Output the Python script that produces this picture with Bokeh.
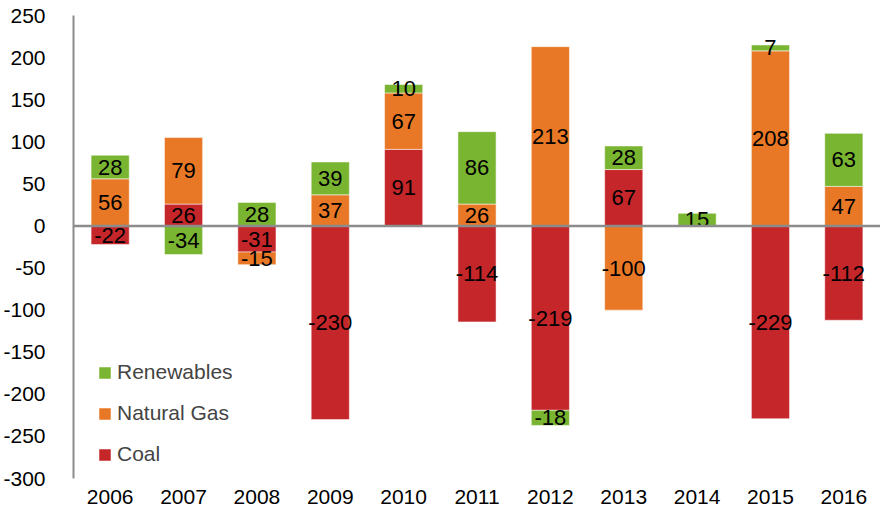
from bokeh.plotting import figure
from bokeh.models import FactorRange, Range1d, Span, Legend, LegendItem, ColumnDataSource, SingleIntervalTicker, PrintfTickFormatter
from bokeh.core.properties import value
from bokeh.embed import file_html
from bokeh.resources import INLINE

years = ["2006", "2007", "2008", "2009", "2010", "2011", "2012", "2013", "2014", "2015", "2016"]
coal = [-22, 26, -31, -230, 91, -114, -219, 67, 0, -229, -112]
natural_gas = [56, 79, -15, 37, 67, 26, 213, -100, 0, 208, 47]
renewables = [28, -34, 28, 39, 10, 86, -18, 28, 15, 7, 63]

series = [("Coal", coal, "#C5262A"), ("Natural Gas", natural_gas, "#E87826"), ("Renewables", renewables, "#7AB532")]

FONT = "Liberation Sans"

p = figure(x_range=FactorRange(*years), y_range=Range1d(-300, 250),
           width=880, height=513, output_backend="svg", toolbar_location=None,
           min_border_left=69, min_border_right=0, min_border_top=15, min_border_bottom=35)
p.outline_line_color = None
p.xgrid.visible = False
p.ygrid.visible = False

pos = [0.0] * len(years)
neg = [0.0] * len(years)
renderers = {}
lx, ly, lt = [], [], []
for name, vals, color in series:
    bottoms, tops = [], []
    for i, v in enumerate(vals):
        if v >= 0:
            b, t = pos[i], pos[i] + v
            pos[i] = t
        else:
            b, t = neg[i] + v, neg[i]
            neg[i] = b
        bottoms.append(b)
        tops.append(t)
        if v != 0:
            lx.append(years[i]); ly.append((b + t) / 2); lt.append(str(v))
    src = ColumnDataSource(dict(x=years, bottom=bottoms, top=tops))
    renderers[name] = p.vbar(x="x", bottom="bottom", top="top", width=0.52, source=src,
                             fill_color=color, line_color="white", line_width=1, line_alpha=0.5)

p.add_layout(Span(location=0, dimension="width", line_color="#8C8C8C", line_width=2.5))

p.text(x=lx, y=ly, text=lt, text_align="center", text_baseline="middle",
       text_font=value(FONT), text_font_size="22px", text_color="black")

p.yaxis.ticker = SingleIntervalTicker(interval=50)
p.yaxis.formatter = PrintfTickFormatter(format="%d")
p.yaxis.axis_line_color = "#8C8C8C"
p.yaxis.axis_line_width = 2
p.yaxis.major_tick_line_color = None
p.yaxis.minor_tick_line_color = None
p.yaxis.major_tick_out = 0
p.yaxis.major_label_standoff = 24
p.yaxis.major_label_text_font = FONT
p.yaxis.major_label_text_font_size = "21px"
p.yaxis.major_label_text_color = "black"

p.xaxis.axis_line_color = None
p.xaxis.major_tick_line_color = None
p.xaxis.major_tick_out = 0
p.xaxis.major_label_standoff = 11
p.xaxis.major_label_text_font = FONT
p.xaxis.major_label_text_font_size = "21px"
p.xaxis.major_label_text_color = "black"

legend = Legend(items=[LegendItem(label="Renewables", renderers=[renderers["Renewables"]]),
                       LegendItem(label="Natural Gas", renderers=[renderers["Natural Gas"]]),
                       LegendItem(label="Coal", renderers=[renderers["Coal"]])],
                location=(24, 12))
legend.glyph_width = 15
legend.glyph_height = 15
legend.label_height = 20
legend.spacing = 17
legend.padding = 0
legend.margin = 0
legend.label_standoff = 5
legend.label_text_font = FONT
legend.label_text_font_size = "21px"
legend.border_line_color = None
legend.background_fill_alpha = 0
p.add_layout(legend)

open("out.html", "w").write(file_html(p, INLINE))
